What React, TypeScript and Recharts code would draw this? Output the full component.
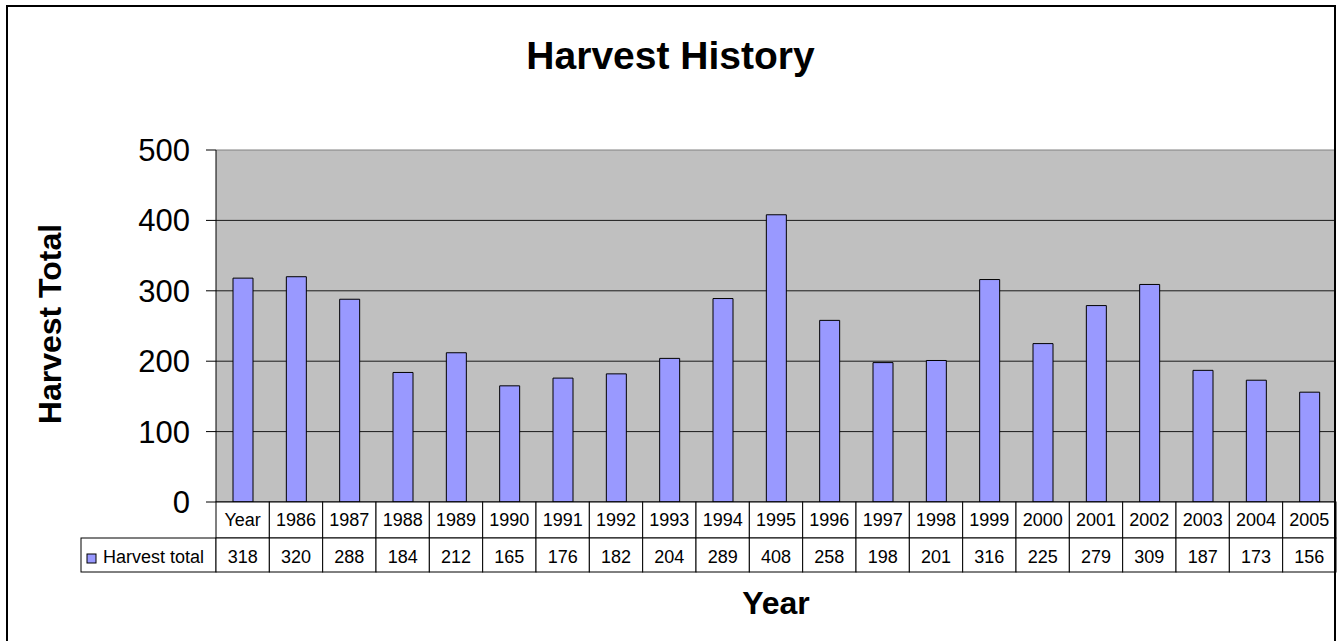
import React from 'react';
import { BarChart, Bar, XAxis, YAxis, CartesianGrid, ReferenceLine } from 'recharts';

const categories = ['Year', '1986', '1987', '1988', '1989', '1990', '1991', '1992', '1993', '1994', '1995', '1996', '1997', '1998', '1999', '2000', '2001', '2002', '2003', '2004', '2005'];
const harvestTotals = [318, 320, 288, 184, 212, 165, 176, 182, 204, 289, 408, 258, 198, 201, 316, 225, 279, 309, 187, 173, 156];
const seriesName = 'Harvest total';
const yTicks = [0, 100, 200, 300, 400, 500];
const gridValues = [100, 200, 300, 400];

const data = categories.map((c, i) => ({ year: c, total: harvestTotals[i] }));

const W = 1341;
const H = 641;
const PLOT_LEFT = 216;
const PLOT_RIGHT = 1336;
const PLOT_TOP = 150;
const PLOT_BOTTOM = 502;
const COL_W = (PLOT_RIGHT - PLOT_LEFT) / categories.length;
const ROW1_BOTTOM = 538;
const ROW2_BOTTOM = 572;
const FONT = '"Liberation Sans", Arial, Helvetica, sans-serif';
const BAR_COLOR = '#9999FF';

const TableTick = (props: any) => {
  const { x, payload } = props;
  const i = payload.index;
  const left = x - COL_W / 2;
  return (
    <g>
      {i === 0 && (
        <g>
          <rect x={81} y={ROW1_BOTTOM} width={PLOT_LEFT - 81} height={ROW2_BOTTOM - ROW1_BOTTOM} fill="#fff" stroke="#000" strokeWidth={1} />
          <rect x={87} y={554} width={9} height={9} fill={BAR_COLOR} stroke="#000" strokeWidth={1} />
          <text x={103} y={563} fontSize={18} fontFamily={FONT} fill="#000">{seriesName}</text>
        </g>
      )}
      <rect x={left} y={PLOT_BOTTOM} width={COL_W} height={ROW1_BOTTOM - PLOT_BOTTOM} fill="#fff" stroke="#000" strokeWidth={1} />
      <rect x={left} y={ROW1_BOTTOM} width={COL_W} height={ROW2_BOTTOM - ROW1_BOTTOM} fill="#fff" stroke="#000" strokeWidth={1} />
      <text x={x} y={526} textAnchor="middle" fontSize={18} fontFamily={FONT} fill="#000">{payload.value}</text>
      <text x={x} y={563} textAnchor="middle" fontSize={18} fontFamily={FONT} fill="#000">{harvestTotals[i]}</text>
    </g>
  );
};

export default function App() {
  return (
    <div style={{ position: 'fixed', left: 0, top: 0, width: W, height: H, overflow: 'hidden', background: '#fff', fontFamily: FONT }}>
      <BarChart
        width={W}
        height={H}
        data={data}
        margin={{ top: PLOT_TOP, right: W - PLOT_RIGHT, bottom: 0, left: 0 }}
      >
        <CartesianGrid
          yAxisId="left"
          vertical={false}
          horizontalValues={gridValues}
          stroke="#1a1a1a"
          strokeWidth={1}
          fill="#C0C0C0"
          fillOpacity={1}
        />
        <XAxis
          dataKey="year"
          height={H - PLOT_BOTTOM}
          interval={0}
          tickLine={false}
          tickSize={0}
          axisLine={{ stroke: '#000' }}
          tick={<TableTick />}
        />
        <YAxis
          yAxisId="left"
          width={PLOT_LEFT}
          domain={[0, 500]}
          ticks={yTicks}
          interval={0}
          tickSize={10}
          tickMargin={16}
          tickLine={{ stroke: '#000' }}
          axisLine={{ stroke: '#000' }}
          tick={{ fill: '#000', fontSize: 31, fontFamily: FONT }}
        />
        <YAxis
          yAxisId="right"
          orientation="right"
          width={0}
          domain={[0, 500]}
          tick={false}
          tickLine={false}
          axisLine={{ stroke: '#808080' }}
        />
        <ReferenceLine yAxisId="left" y={500} stroke="#808080" strokeWidth={1} />
        <Bar
          yAxisId="left"
          dataKey="total"
          name={seriesName}
          fill={BAR_COLOR}
          stroke="#000"
          strokeWidth={1}
          barSize={20}
          isAnimationActive={false}
        />
      </BarChart>
      <div style={{ position: 'absolute', left: 0, top: 36, width: W, textAlign: 'center', fontSize: 39, fontWeight: 'bold', lineHeight: '39px', color: '#000' }}>
        Harvest History
      </div>
      <div style={{ position: 'absolute', left: PLOT_LEFT, width: PLOT_RIGHT - PLOT_LEFT, top: 587, textAlign: 'center', fontSize: 32, fontWeight: 'bold', lineHeight: '32px', color: '#000' }}>
        Year
      </div>
      <div style={{ position: 'absolute', left: 50 - 150, top: 324 - 16, width: 300, height: 32, textAlign: 'center', fontSize: 32, fontWeight: 'bold', lineHeight: '32px', color: '#000', transform: 'rotate(-90deg)', transformOrigin: '150px 16px' }}>
        Harvest Total
      </div>
      <div style={{ position: 'absolute', left: 6, top: 5, width: 1330, height: 700, border: '2px solid #000', boxSizing: 'border-box', pointerEvents: 'none' }} />
    </div>
  );
}
